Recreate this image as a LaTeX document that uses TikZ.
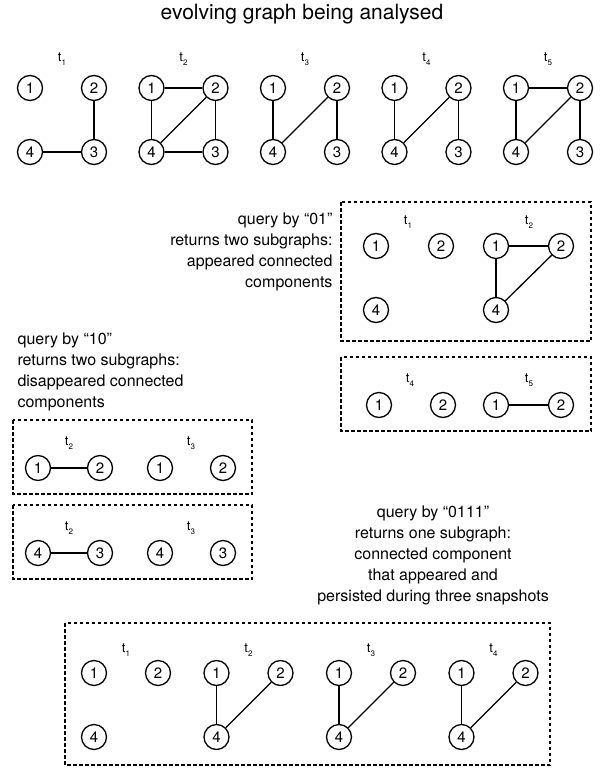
\documentclass[tikz,border=0pt]{standalone}
\usepackage{fontspec}
\setmainfont{TeX Gyre Heros}
\newcommand{\tlab}[1]{t\raisebox{-0.55ex}{\fontsize{8}{8}\selectfont #1}}

\begin{document}
\begin{tikzpicture}[x=1pt, y=-1pt,
  vtx/.style={draw, circle, line width=1.3pt, minimum size=25pt, inner sep=0pt, font=\fontsize{15}{15}\selectfont},
  lnk/.style={line width=1.3pt},
  tlbl/.style={font=\fontsize{13}{13}\selectfont},
  qbox/.style={line width=1.3pt, dash pattern=on 3.5pt off 2.5pt},
  qtext/.style={font=\fontsize{16}{21}\selectfont}]
\useasboundingbox (0,0) rectangle (604,771);

% evolving graph
\node[font=\fontsize{21}{21}\selectfont] (title) at (302,14) {evolving graph being analysed};

\node[tlbl] (ta) at (62,59) {\tlab{1}};
\node[vtx] (a1) at (30,88)  {1};
\node[vtx] (a2) at (94,88)  {2};
\node[vtx] (a3) at (94,152) {3};
\node[vtx] (a4) at (30,152) {4};
\draw[lnk] (a2) -- (a3);
\draw[lnk] (a4) -- (a3);

\node[tlbl] (tb) at (183.5,59) {\tlab{2}};
\node[vtx] (b1) at (151.5,88)  {1};
\node[vtx] (b2) at (215.5,88)  {2};
\node[vtx] (b3) at (215.5,152) {3};
\node[vtx] (b4) at (151.5,152) {4};
\draw[lnk] (b1) -- (b2);
\draw[lnk] (b1) -- (b4);
\draw[lnk] (b4) -- (b2);
\draw[lnk] (b2) -- (b3);
\draw[lnk] (b4) -- (b3);

\node[tlbl] (tc) at (305,59) {\tlab{3}};
\node[vtx] (c1) at (273,88)  {1};
\node[vtx] (c2) at (337,88)  {2};
\node[vtx] (c3) at (337,152) {3};
\node[vtx] (c4) at (273,152) {4};
\draw[lnk] (c1) -- (c4);
\draw[lnk] (c4) -- (c2);
\draw[lnk] (c2) -- (c3);

\node[tlbl] (td) at (426.5,59) {\tlab{4}};
\node[vtx] (d1) at (394.5,88)  {1};
\node[vtx] (d2) at (458.5,88)  {2};
\node[vtx] (d3) at (458.5,152) {3};
\node[vtx] (d4) at (394.5,152) {4};
\draw[lnk] (d1) -- (d4);
\draw[lnk] (d4) -- (d2);
\draw[lnk] (d2) -- (d3);

\node[tlbl] (te) at (548,59) {\tlab{5}};
\node[vtx] (e1) at (516,88)  {1};
\node[vtx] (e2) at (580,88)  {2};
\node[vtx] (e3) at (580,152) {3};
\node[vtx] (e4) at (516,152) {4};
\draw[lnk] (e1) -- (e2);
\draw[lnk] (e1) -- (e4);
\draw[lnk] (e4) -- (e2);
\draw[lnk] (e2) -- (e3);

% query 01
\node[qtext, anchor=east, align=right] (q01) at (336,251.5)
  {query by “01”\\returns two subgraphs:\\appeared connected\\components};
\draw[qbox] (341,202) rectangle (591,341);
\node[tlbl] (tp) at (408,222) {\tlab{1}};
\node[vtx] (p1) at (376,246) {1};
\node[vtx] (p2) at (441,246) {2};
\node[vtx] (p4) at (376,310) {4};
\node[tlbl] (tq) at (529,222) {\tlab{2}};
\node[vtx] (q1) at (496,246) {1};
\node[vtx] (q2) at (561,246) {2};
\node[vtx] (q4) at (496,310) {4};
\draw[lnk] (q1) -- (q2);
\draw[lnk] (q1) -- (q4);
\draw[lnk] (q4) -- (q2);

\draw[qbox] (341,357) rectangle (591,431);
\node[tlbl] (tr) at (410,380) {\tlab{4}};
\node[vtx] (r1) at (379,405) {1};
\node[vtx] (r2) at (443,405) {2};
\node[tlbl] (ts) at (529,380) {\tlab{5}};
\node[vtx] (s1) at (496,405) {1};
\node[vtx] (s2) at (561,405) {2};
\draw[lnk] (s1) -- (s2);

% query 10
\node[qtext, anchor=west, align=left] (q10) at (14,371.5)
  {query by “10”\\returns two subgraphs:\\disappeared connected\\components};
\draw[qbox] (13,420) rectangle (252,494);
\node[tlbl] (tu) at (69,443) {\tlab{2}};
\node[vtx] (u1) at (38,468)  {1};
\node[vtx] (u2) at (100,468) {2};
\node[tlbl] (tv) at (191,443) {\tlab{3}};
\node[vtx] (v1) at (160,468) {1};
\node[vtx] (v2) at (223,468) {2};
\draw[lnk] (u1) -- (u2);

\draw[qbox] (13,505) rectangle (252,579);
\node[tlbl] (tw) at (69,528) {\tlab{2}};
\node[vtx] (w4) at (38,553)  {4};
\node[vtx] (w3) at (100,553) {3};
\node[tlbl] (tx) at (191,528) {\tlab{3}};
\node[vtx] (x4) at (160,553) {4};
\node[vtx] (x3) at (223,553) {3};
\draw[lnk] (w4) -- (w3);

% query 0111
\node[qtext, align=center] (q0111) at (433,555)
  {query by “0111”\\returns one subgraph:\\connected component\\that appeared and\\persisted during three snapshots};
\draw[qbox] (65,623) rectangle (550,765);
\node[tlbl] (tk) at (126,650) {\tlab{1}};
\node[vtx] (k1) at (94,673)  {1};
\node[vtx] (k2) at (158,673) {2};
\node[vtx] (k4) at (94,737)  {4};
\node[tlbl] (tl) at (248.5,650) {\tlab{2}};
\node[vtx] (l1) at (216.5,673) {1};
\node[vtx] (l2) at (280.5,673) {2};
\node[vtx] (l4) at (216.5,737) {4};
\draw[lnk] (l1) -- (l4);
\draw[lnk] (l4) -- (l2);
\node[tlbl] (tm) at (371,650) {\tlab{3}};
\node[vtx] (m1) at (339,673) {1};
\node[vtx] (m2) at (403,673) {2};
\node[vtx] (m4) at (339,737) {4};
\draw[lnk] (m1) -- (m4);
\draw[lnk] (m4) -- (m2);
\node[tlbl] (tn) at (493.5,650) {\tlab{4}};
\node[vtx] (n1) at (461.5,673) {1};
\node[vtx] (n2) at (525.5,673) {2};
\node[vtx] (n4) at (461.5,737) {4};
\draw[lnk] (n1) -- (n4);
\draw[lnk] (n4) -- (n2);

\end{tikzpicture}
\end{document}
